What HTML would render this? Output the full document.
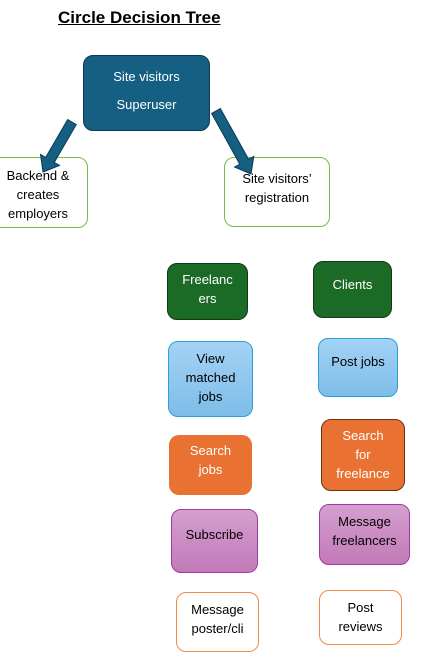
<!DOCTYPE html>
<html><head><meta charset="utf-8"><style>
body{margin:0;background:#fff;width:423px;height:659px;overflow:hidden;font-family:"Liberation Sans",sans-serif}
.b{position:absolute;box-sizing:border-box;border-radius:10px;display:flex;flex-direction:column;align-items:center;font-size:13px;line-height:19px;text-align:center}
</style></head><body>
<div style="position:absolute;left:58px;top:8px;font-size:17px;font-weight:bold;text-decoration:underline">Circle Decision Tree</div>
<div class="b" style="left:83px;top:55px;width:127px;height:76px;background:#155f82;border:1px solid #0d3a50;color:#fff;padding-top:7px;line-height:28px">Site visitors<br>Superuser</div>
<div class="b" style="left:-12px;top:157px;width:100px;height:71px;border:1px solid #6fbf4a;background:#fff;padding-top:8px">Backend &amp;<br>creates<br>employers</div>
<div class="b" style="left:224px;top:157px;width:106px;height:70px;border:1px solid #6fbf4a;background:#fff;padding-top:11px">Site visitors’<br>registration</div>
<svg style="position:absolute;left:0;top:0" width="423" height="659">
<polygon points="76.3,124.5 54.3,162.4 59.5,165.4 43,172 40.5,154.4 45.7,157.4 67.7,119.5" fill="#155f82" stroke="#0d3a50" stroke-width="1"/>
<polygon points="220.4,108.6 248.6,159.3 253.8,156.4 251,174 234.6,167.1 239.8,164.2 211.6,113.4" fill="#155f82" stroke="#0d3a50" stroke-width="1"/>
</svg>
<div class="b" style="left:167px;top:263px;width:81px;height:57px;background:#1b6a26;border:1px solid #0f3a15;color:#fff;padding-top:6px">Freelanc<br>ers</div>
<div class="b" style="left:313px;top:261px;width:79px;height:57px;background:#1b6a26;border:1px solid #0f3a15;color:#fff;padding-top:13px">Clients</div>
<div class="b" style="left:168px;top:341px;width:85px;height:76px;background:linear-gradient(#a3d2f4,#7ebde9);border:1px solid #2b9fd8;padding-top:7px">View<br>matched<br>jobs</div>
<div class="b" style="left:318px;top:338px;width:80px;height:59px;background:linear-gradient(#a3d2f4,#7ebde9);border:1px solid #2b9fd8;padding-top:13px">Post jobs</div>
<div class="b" style="left:169px;top:435px;width:83px;height:60px;background:#e97132;color:#fff;padding-top:6px">Search<br>jobs</div>
<div class="b" style="left:321px;top:419px;width:84px;height:72px;background:#e97132;border:1px solid #6b3318;color:#fff;padding-top:6px">Search<br>for<br>freelance</div>
<div class="b" style="left:171px;top:509px;width:87px;height:64px;background:linear-gradient(#d49fcf,#c27ab8);border:1px solid #a03aa0;padding-top:15px">Subscribe</div>
<div class="b" style="left:319px;top:504px;width:91px;height:61px;background:linear-gradient(#d49fcf,#c27ab8);border:1px solid #a03aa0;padding-top:7px">Message<br>freelancers</div>
<div class="b" style="left:176px;top:592px;width:83px;height:60px;border:1px solid #f08a4b;background:#fff;padding-top:7px">Message<br>poster/cli</div>
<div class="b" style="left:319px;top:590px;width:83px;height:55px;border:1px solid #f08a4b;background:#fff;padding-top:7px">Post<br>reviews</div>
</body></html>
